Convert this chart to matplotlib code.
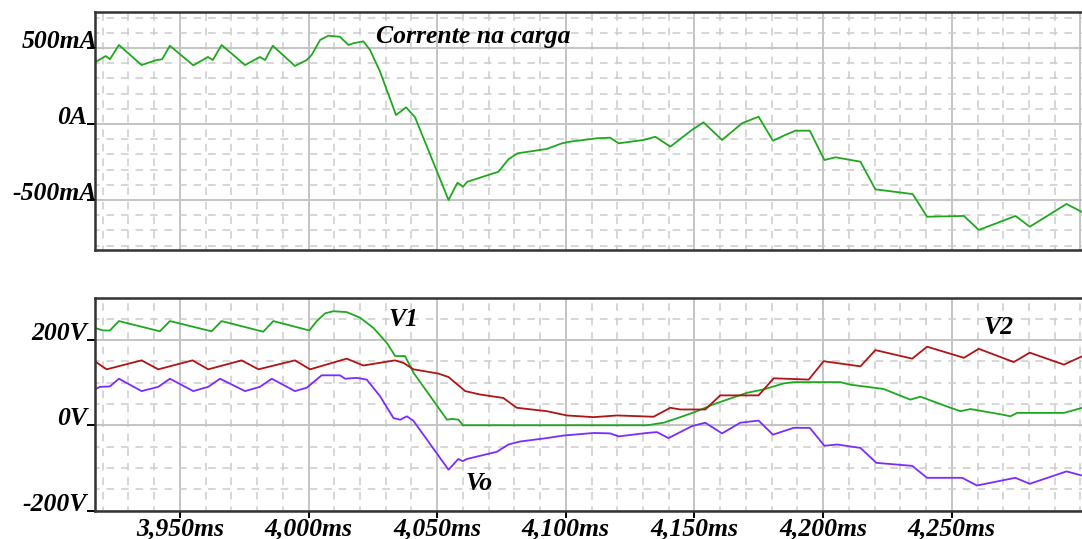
import numpy as np
import matplotlib
matplotlib.use("Agg")
import matplotlib.pyplot as plt
from matplotlib.ticker import MultipleLocator
from matplotlib.font_manager import FontProperties

# tempo (ms) e corrente na carga (mA)
t_i = [3916.9, 3921.2, 3922.8, 3926.3, 3935.1, 3940.9, 3943.1, 3946.1, 3955.2, 3960.9,
       3962.8, 3966.2, 3975.3, 3981.1, 3983.1, 3986.1, 3994.7, 3999.3, 4001.2, 4004.5,
       4007.7, 4012.2, 4015.5, 4017.4, 4021.3, 4023.9, 4027.8, 4034.0, 4037.9, 4041.4,
       4054.4, 4057.9, 4060.0, 4061.7, 4073.8, 4077.7, 4081.2, 4092.6, 4098.5, 4101.7,
       4112.1, 4117.2, 4120.5, 4130.2, 4134.8, 4140.6, 4149.0, 4153.5, 4160.7, 4168.5,
       4174.9, 4180.5, 4185.3, 4189.2, 4194.8, 4200.5, 4204.8, 4214.5, 4220.3, 4227.4,
       4234.8, 4240.4, 4254.7, 4260.5, 4274.8, 4280.3, 4294.6, 4300.8]
i_carga = [406, 447, 426, 520, 388, 421, 426, 515, 386, 441,
           421, 520, 388, 441, 421, 515, 382, 421, 454, 553,
           581, 574, 520, 531, 544, 487, 344, 59, 110, 44,
           -500, -386, -413, -380, -314, -232, -193, -164, -127, -116,
           -94, -90, -127, -105, -84, -149, -39, 11, -105, 5,
           48, -110, -72, -44, -44, -237, -219, -248, -430, -445,
           -461, -610, -605, -697, -605, -676, -526, -581]

# tensões V1, V2 e Vo (V)
t_v1 = [3916.9, 3920.2, 3922.8, 3926.3, 3942.2, 3946.1, 3962.3, 3966.2, 3982.4, 3986.3,
        4000.3, 4003.2, 4006.4, 4009.6, 4014.8, 4020.0, 4025.2, 4030.4, 4033.7, 4037.5,
        4040.8, 4053.8, 4055.7, 4058.3, 4060.0, 4131.5, 4138.0, 4144.5, 4151.0, 4157.3,
        4170.4, 4176.9, 4184.6, 4188.5, 4206.7, 4210.6, 4217.1, 4223.5, 4233.9, 4237.8,
        4249.5, 4253.4, 4257.3, 4269.6, 4272.8, 4275.4, 4293.6, 4300.8]
v1 = [228, 222, 222, 244, 220, 244, 220, 244, 219, 244,
      222, 244, 262, 267, 265, 252, 228, 193, 162, 162,
      123, 13, 15, 13, 0, 0, 6, 19, 33, 49,
      76, 84, 98, 101, 101, 95, 90, 85, 60, 67,
      41, 33, 38, 25, 21, 29, 29, 41]

t_v2 = [3916.9, 3921.5, 3935.1, 3941.6, 3954.9, 3961.0, 3974.0, 3980.5, 3994.7, 4000.6,
        4014.8, 4021.3, 4033.6, 4036.9, 4040.8, 4050.5, 4054.4, 4060.9, 4066.7, 4075.7,
        4080.9, 4092.6, 4100.4, 4110.8, 4119.9, 4134.1, 4140.6, 4144.5, 4154.2, 4160.0,
        4174.9, 4180.8, 4194.4, 4200.2, 4214.5, 4220.3, 4234.6, 4240.4, 4254.7, 4260.5,
        4274.1, 4280.3, 4293.6, 4300.8]
v2 = [150, 131, 152, 131, 152, 131, 152, 131, 152, 131,
      156, 140, 152, 146, 131, 121, 113, 80, 72, 64,
      41, 33, 23, 19, 23, 20, 41, 37, 37, 70,
      70, 110, 107, 150, 138, 176, 156, 184, 158, 179,
      148, 170, 142, 162]

t_vo = [3916.9, 3918.9, 3922.8, 3926.3, 3935.1, 3941.6, 3946.1, 3955.2, 3961.0, 3965.6,
        3975.3, 3981.1, 3985.7, 3994.7, 3999.3, 4005.1, 4012.2, 4014.2, 4018.7, 4022.6,
        4027.8, 4033.0, 4035.6, 4038.2, 4040.7, 4054.4, 4058.2, 4060.0, 4061.5, 4073.2,
        4077.7, 4082.2, 4092.6, 4099.1, 4110.8, 4117.2, 4120.5, 4131.5, 4135.4, 4139.9,
        4149.0, 4154.2, 4160.7, 4167.8, 4174.9, 4180.5, 4188.5, 4194.8, 4200.5, 4205.4,
        4214.5, 4220.7, 4234.6, 4240.4, 4254.0, 4259.8, 4274.7, 4280.3, 4294.6, 4300.8]
vo = [84, 90, 91, 109, 80, 90, 109, 80, 90, 109,
      80, 90, 109, 80, 88, 117, 117, 109, 111, 107,
      68, 17, 13, 21, 11, -104, -79, -84, -79, -62,
      -45, -38, -30, -24, -18, -19, -26, -18, -16, -30,
      -2, 6, -19, 6, 11, -22, -6, -6, -48, -45,
      -53, -88, -95, -123, -123, -141, -123, -137, -108, -118]

x_ticks = [3950, 4000, 4050, 4100, 4150, 4200, 4250]
x_labels = ["3,950ms", "4,000ms", "4,050ms", "4,100ms", "4,150ms", "4,200ms", "4,250ms"]
i_ticks = [500, 0, -500]
i_labels = ["500mA", "0A", "-500mA"]
v_ticks = [200, 0, -200]
v_labels = ["200V", "0V", "-200V"]

VERDE = "#1fa81f"
VERMELHO = "#b01414"
ROXO = "#7a2cff"
TAM = 18.5
fonte = dict(family="Liberation Serif", weight="bold", style="italic", color="black")

fig = plt.figure(figsize=(10.82, 5.39), dpi=100)
ax1 = fig.add_axes([95 / 1082, 1 - 250 / 539, 988 / 1082, 238 / 539])
ax2 = fig.add_axes([95 / 1082, 1 - 510.7 / 539, 988 / 1082, 212.7 / 539])


def grade(ax, maior, menor):
    ax.set_xlim(3917, 4301)
    ax.xaxis.set_major_locator(MultipleLocator(50))
    ax.xaxis.set_minor_locator(MultipleLocator(10))
    ax.yaxis.set_major_locator(MultipleLocator(maior))
    ax.yaxis.set_minor_locator(MultipleLocator(menor))
    ax.grid(which="major", color="#c4c4c4", linewidth=1.4)
    ax.grid(which="minor", color="#cccccc", linewidth=1.1, linestyle=(2, (5, 4.5)))
    ax.set_axisbelow(True)
    for lado in ["left", "top", "bottom"]:
        ax.spines[lado].set_color("#333333")
        ax.spines[lado].set_linewidth(1.8)
    ax.spines["right"].set_visible(False)
    ax.tick_params(which="minor", length=0)
    ax.tick_params(axis="y", which="major", length=6, width=1.4, color="black", labelleft=False)
    ax.tick_params(axis="x", which="major", length=5, width=1.4, color="black")


# painel da corrente
ax1.plot(t_i, i_carga, color=VERDE, linewidth=1.3)
ax1.set_ylim(-829, 737)
grade(ax1, 500, 100)
ax1.tick_params(axis="x", which="major", length=0, labelbottom=False)
for v, txt in zip(i_ticks, i_labels):
    xr = 0.002 if "m" in txt else -0.008
    ax1.text(xr, v, txt, transform=ax1.get_yaxis_transform(), ha="right", va="baseline",
             fontsize=TAM, **fonte)

# painel das tensões
ax2.plot(t_v1, v1, color=VERDE, linewidth=1.3)
ax2.plot(t_v2, v2, color=VERMELHO, linewidth=1.3)
ax2.plot(t_vo, vo, color=ROXO, linewidth=1.3)
ax2.set_ylim(-200, 298)
grade(ax2, 200, 50)
ax2.set_yticks(v_ticks)
ax2.set_xticks(x_ticks, x_labels)
for t in ax2.get_xticklabels():
    t.set_fontproperties(FontProperties(family="Liberation Serif", weight="bold",
                                        style="italic", size=TAM))
ax2.tick_params(axis="x", pad=0)
for v, txt in zip(v_ticks, v_labels):
    ax2.text(-0.008, v, txt, transform=ax2.get_yaxis_transform(), ha="right", va="baseline",
             fontsize=TAM, **fonte)

# rótulos das curvas (posição em pixels da figura)
for txt, px, py in [("Corrente na carga", 376, 37), ("V1", 388, 319),
                    ("Vo", 465, 483), ("V2", 983, 327)]:
    fig.text(px / 1082, 1 - py / 539, txt, ha="left", va="center", fontsize=TAM, **fonte)

fig.savefig("out.png", dpi=100)
